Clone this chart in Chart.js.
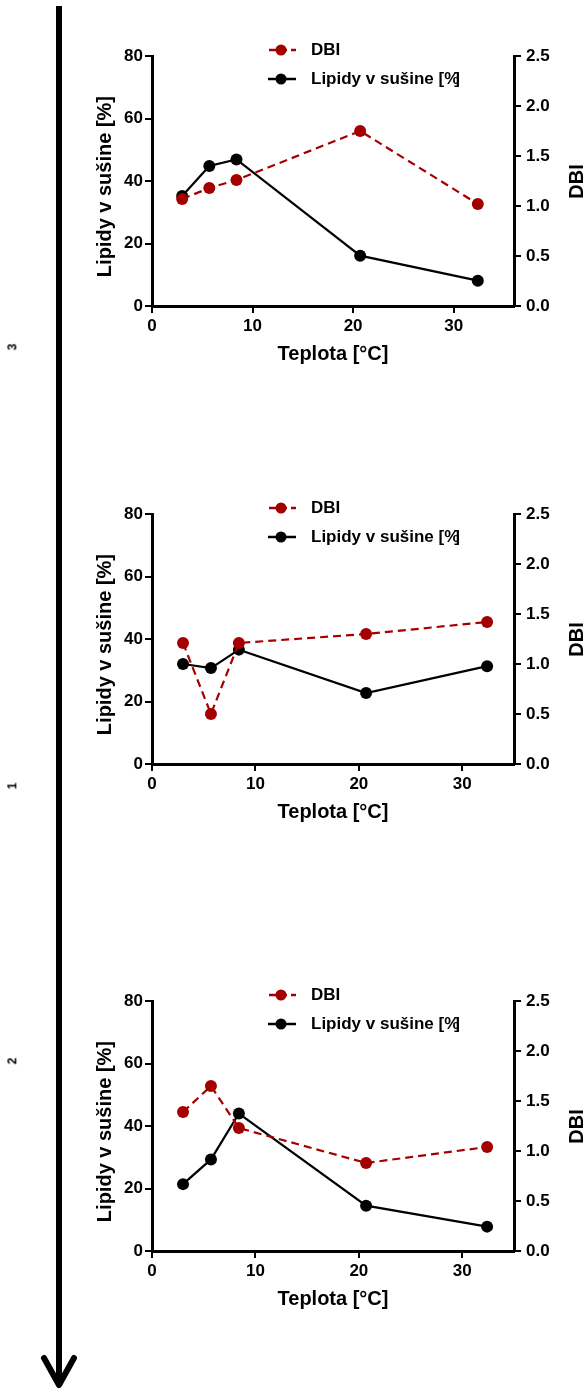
<!DOCTYPE html>
<html>
<head>
<meta charset="utf-8">
<script src="https://cdn.jsdelivr.net/npm/chart.js@4.4.1/dist/chart.umd.min.js"></script>
<style>
  body { margin: 0; width: 587px; height: 1390px; background: #fff; position: relative; overflow: hidden;
         font-family: "Liberation Sans", Arial, sans-serif; }
  .panel { position: absolute; left: 0; width: 587px; height: 386px; }
  .panel canvas { position: absolute; left: 0; top: 0; }
  .leg { position: absolute; left: 268px; height: 20px; display: flex; align-items: center;
         font-weight: bold; font-size: 17px; color: #000; white-space: nowrap; }
  .leg svg { margin-right: 13px; }
  .dbi { position: absolute; left: 565px; top: 56px; width: 22px; height: 250px;
         display: flex; align-items: center; justify-content: center; }
  .dbi span { transform: rotate(-90deg); font-weight: bold; font-size: 20px; color: #000; }
  .tag { position: absolute; left: 9px; font-weight: bold; font-size: 12px; transform: rotate(-90deg); }
  #arrow { position: absolute; left: 0; top: 0; }
</style>
</head>
<body>
<svg id="arrow" width="587" height="1390">
  <line x1="59" y1="6" x2="59" y2="1384" stroke="#000" stroke-width="6"/>
  <polyline points="44,1358 59,1385 74,1358" fill="none" stroke="#000" stroke-width="6" stroke-linecap="round" stroke-linejoin="round"/>
</svg>

<script>
// temperature of each sample [°C]
const temps = [3.0, 5.7, 8.4, 20.7, 32.4];

// panel 1 (top)
const lipids1 = [35.2, 44.8, 46.9, 16.1, 8.1];
const dbi1 = [1.07, 1.18, 1.26, 1.75, 1.02];
// panel 2 (middle)
const lipids2 = [32.0, 30.7, 36.6, 22.7, 31.3];
const dbi2 = [1.21, 0.50, 1.21, 1.30, 1.42];
// panel 3 (bottom)
const lipids3 = [21.4, 29.3, 44.0, 14.5, 7.8];
const dbi3 = [1.39, 1.65, 1.23, 0.88, 1.04];

const panelTags = ["3", "1", "2"];
const xMaxes = [36, 35, 35];
const xTicks = [0, 10, 20, 30];
const lipidTicks = [0, 20, 40, 60, 80];
const dbiTicks = [0, 0.5, 1.0, 1.5, 2.0, 2.5];

const RED = "#a50000";
const FONT = "'Liberation Sans', Arial, sans-serif";

function axisStyle(pad, callback) {
  const ticks = { color: "#000", font: { family: FONT, size: 17, weight: "bold" }, padding: pad };
  if (callback) ticks.callback = callback;
  return {
    grid: { drawOnChartArea: false, drawTicks: true, tickLength: 7, lineWidth: 2, color: "#000" },
    border: { display: true, width: 3, color: "#000" },
    ticks: ticks
  };
}

function buildPanel(top, lipids, dbi, xMax, tag, tagTop) {
  const panel = document.createElement("div");
  panel.className = "panel";
  panel.style.top = top + "px";
  const canvas = document.createElement("canvas");
  canvas.width = 587;
  canvas.height = 386;
  panel.appendChild(canvas);

  panel.insertAdjacentHTML("beforeend", `
    <div class="leg" style="top:40px">
      <svg width="30" height="14"><line x1="1" y1="7" x2="28" y2="7" stroke="${RED}" stroke-width="2.5" stroke-dasharray="7 4"/><circle cx="13" cy="7" r="5.5" fill="${RED}"/></svg>DBI
    </div>
    <div class="leg" style="top:69px">
      <svg width="30" height="14"><line x1="0" y1="7" x2="28" y2="7" stroke="#000" stroke-width="2.5"/><circle cx="13" cy="7" r="5.5" fill="#000"/></svg>Lipidy v sušine [%<span style="margin-left:-5px">]</span>
    </div>
    <div class="dbi"><span>DBI</span></div>`);
  document.body.appendChild(panel);

  document.body.insertAdjacentHTML("beforeend",
    `<div class="tag" style="top:${tagTop}px">${tag}</div>`);

  new Chart(canvas, {
    type: "line",
    data: {
      datasets: [
        {
          label: "DBI",
          data: temps.map((t, i) => ({ x: t, y: dbi[i] })),
          yAxisID: "y1",
          borderColor: RED,
          backgroundColor: RED,
          borderWidth: 2.2,
          borderDash: [8, 5],
          pointRadius: 6,
          pointBackgroundColor: RED,
          pointBorderColor: RED,
          pointBorderWidth: 0,
          tension: 0
        },
        {
          label: "Lipidy v sušine [%]",
          data: temps.map((t, i) => ({ x: t, y: lipids[i] })),
          yAxisID: "y",
          borderColor: "#000",
          backgroundColor: "#000",
          borderWidth: 2.2,
          pointRadius: 6,
          pointBackgroundColor: "#000",
          pointBorderColor: "#000",
          pointBorderWidth: 0,
          tension: 0
        }
      ]
    },
    options: {
      responsive: false,
      animation: false,
      layout: { padding: { left: 90, right: 0, top: 56, bottom: 20 } },
      plugins: { legend: { display: false }, tooltip: { enabled: false } },
      scales: {
        x: Object.assign(axisStyle(3), {
          type: "linear", position: "bottom", min: 0, max: xMax,
          afterBuildTicks: s => { s.ticks = xTicks.map(v => ({ value: v })); },
          afterFit: s => { s.height = 60; },
          title: { display: true, text: "Teplota [°C]", color: "#000",
                   font: { family: FONT, size: 20, weight: "bold" }, padding: 0 }
        }),
        y: Object.assign(axisStyle(2), {
          type: "linear", position: "left", min: 0, max: 80,
          afterBuildTicks: s => { s.ticks = lipidTicks.map(v => ({ value: v })); },
          afterFit: s => { s.width = 62; },
          // trailing spaces push the rotated title slightly down, as in the original
          title: { display: true, text: "Lipidy v sušine [%]  ", color: "#000",
                   font: { family: FONT, size: 20, weight: "bold" }, padding: 3 }
        }),
        y1: Object.assign(axisStyle(5, v => v.toFixed(1)), {
          type: "linear", position: "right", min: 0, max: 2.5,
          afterBuildTicks: s => { s.ticks = dbiTicks.map(v => ({ value: v })); },
          afterFit: s => { s.width = 73; }
        })
      }
    }
  });
}

buildPanel(0, lipids1, dbi1, xMaxes[0], panelTags[0], 340);
buildPanel(458, lipids2, dbi2, xMaxes[1], panelTags[1], 779);
buildPanel(945, lipids3, dbi3, xMaxes[2], panelTags[2], 1054);
</script>
</body>
</html>
